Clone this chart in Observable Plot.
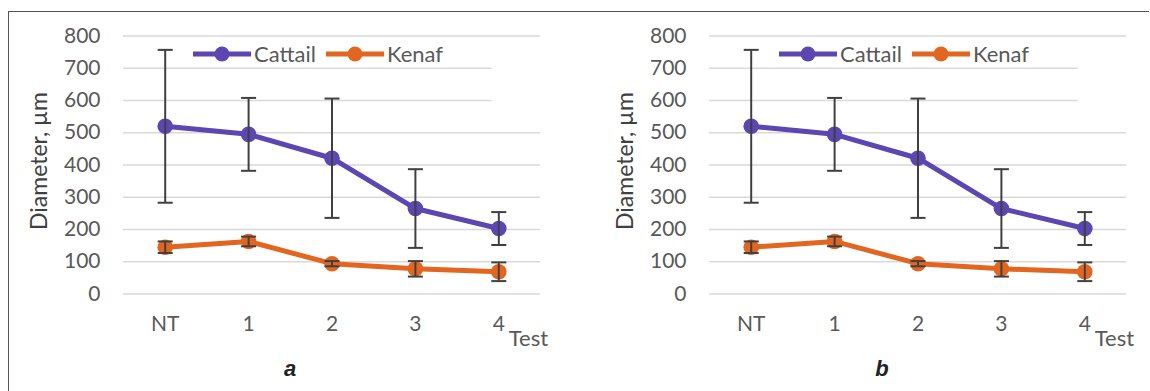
<!DOCTYPE html>
<html><head><meta charset="utf-8">
<script src="https://cdn.jsdelivr.net/npm/d3@7"></script>
<script src="https://cdn.jsdelivr.net/npm/@observablehq/plot@0.6"></script>
<style>
body{margin:0;background:#fff;}
#wrap{position:relative;width:1150px;height:391px;overflow:hidden;background:#fff;font-family:Lato,sans-serif;}
.frame{position:absolute;left:8px;top:11px;width:1141px;height:400px;border-left:1.5px solid #555;border-top:1.5px solid #555;box-sizing:border-box;}
.panel{position:absolute;top:0;height:391px;}
.panel svg{position:absolute;left:0;top:0;}
.legend{position:absolute;top:43px;height:22px;line-height:22px;display:flex;align-items:center;font-size:22px;color:#595959;white-space:nowrap;}
.legend .item{display:flex;align-items:center;margin-right:10px;}
.legend svg{position:static;margin-right:3px;}
.caption{position:absolute;top:356px;font:italic bold 22px "Liberation Sans",Arial,sans-serif;color:#222;transform:translateX(-50%);}
</style></head>
<body><div id="wrap"><div class="frame"></div></div>
<script>
const categories = ["NT", "1", "2", "3", "4"];
const seriesNames = ["Cattail", "Kenaf"];
const seriesColors = ["#5B46B2", "#E2661F"];
const cattailMean = [520, 495, 421, 265, 203];
const cattailErr = [237, 113, 185, 122, 51];
const kenafMean = [145, 163, 94, 78, 69];
const kenafErr = [18, 15, 8, 24, 29];
const yTicks = [0, 100, 200, 300, 400, 500, 600, 700, 800];
const yLabel = "Diameter, µm";
const xLabel = "Test";
const panelNames = ["a", "b"];
// white legend-box area hiding part of the 600/700 gridlines (data units)
const legendMask = [{x1: 3.92, x2: 4.5, y1: 590, y2: 760}];

const rows = [];
categories.forEach((c, i) => {
  rows.push({series: "Cattail", i, mean: cattailMean[i], err: cattailErr[i]});
  rows.push({series: "Kenaf", i, mean: kenafMean[i], err: kenafErr[i]});
});

const capSymbol = {
  draw(ctx, size) {
    const r = Math.sqrt(size / Math.PI);
    ctx.moveTo(-r, 0);
    ctx.lineTo(r, 0);
  }
};

function makePanel(name, left, width, marginRight, captionX) {
  const panel = document.createElement("div");
  panel.className = "panel";
  panel.style.left = left + "px";
  panel.style.width = width + "px";

  const chart = Plot.plot({
    width, height: 391,
    marginLeft: 123, marginRight, marginTop: 35.5, marginBottom: 97.5,
    style: {fontFamily: "Lato, sans-serif", fontSize: "21px", color: "#595959", background: "transparent", overflow: "visible"},
    x: {type: "linear", domain: [-0.5, categories.length - 0.5]},
    y: {domain: [0, 800]},
    color: {domain: seriesNames, range: seriesColors},
    marks: [
      Plot.ruleY(yTicks, {stroke: "#d9d9d9", strokeWidth: 1.5}),
      Plot.rect(legendMask, {x1: "x1", x2: "x2", y1: "y1", y2: "y2", fill: "white"}),
      Plot.axisX({ticks: categories.map((c, i) => i), tickFormat: i => categories[i], tickSize: 0, tickPadding: 22, label: null}),
      Plot.axisY({ticks: yTicks, tickSize: 0, tickPadding: 23, label: null}),
      Plot.line(rows, {x: "i", y: "mean", z: "series", stroke: "series", strokeWidth: 5, strokeLinejoin: "round"}),
      Plot.dot(rows, {x: "i", y: "mean", fill: "series", r: 7.8}),
      Plot.ruleX(rows, {x: "i", y1: d => d.mean - d.err, y2: d => d.mean + d.err, stroke: "#404040", strokeWidth: 2}),
      Plot.dot(rows, {x: "i", y: d => d.mean - d.err, symbol: capSymbol, r: 7.5, stroke: "#404040", strokeWidth: 2, fill: "none"}),
      Plot.dot(rows, {x: "i", y: d => d.mean + d.err, symbol: capSymbol, r: 7.5, stroke: "#404040", strokeWidth: 2, fill: "none"}),
      Plot.text([yLabel], {frameAnchor: "left", textAnchor: "middle", rotate: -90, dx: -84, dy: -4, fontSize: 23, fill: "#404040"}),
      Plot.text([xLabel], {x: () => categories.length - 1, frameAnchor: "bottom", textAnchor: "start", dx: 10, dy: 52, fontSize: 22, fill: "#595959"})
    ]
  });
  panel.appendChild(chart);

  const legend = document.createElement("div");
  legend.className = "legend";
  legend.style.left = "193px";
  seriesNames.forEach((s, k) => {
    const item = document.createElement("div");
    item.className = "item";
    item.innerHTML = `<svg width="58" height="18"><line x1="0" x2="58" y1="9" y2="9" stroke="${seriesColors[k]}" stroke-width="5"/><circle cx="29" cy="9" r="7.5" fill="${seriesColors[k]}"/></svg><span>${s}</span>`;
    legend.appendChild(item);
  });
  panel.appendChild(legend);

  const cap = document.createElement("div");
  cap.className = "caption";
  cap.style.left = captionX + "px";
  cap.textContent = name;
  panel.appendChild(cap);

  document.getElementById("wrap").appendChild(panel);
}

makePanel(panelNames[0], 0, 575, 35, 290);
makePanel(panelNames[1], 586, 564, 24, 296);
</script>
</body></html>
